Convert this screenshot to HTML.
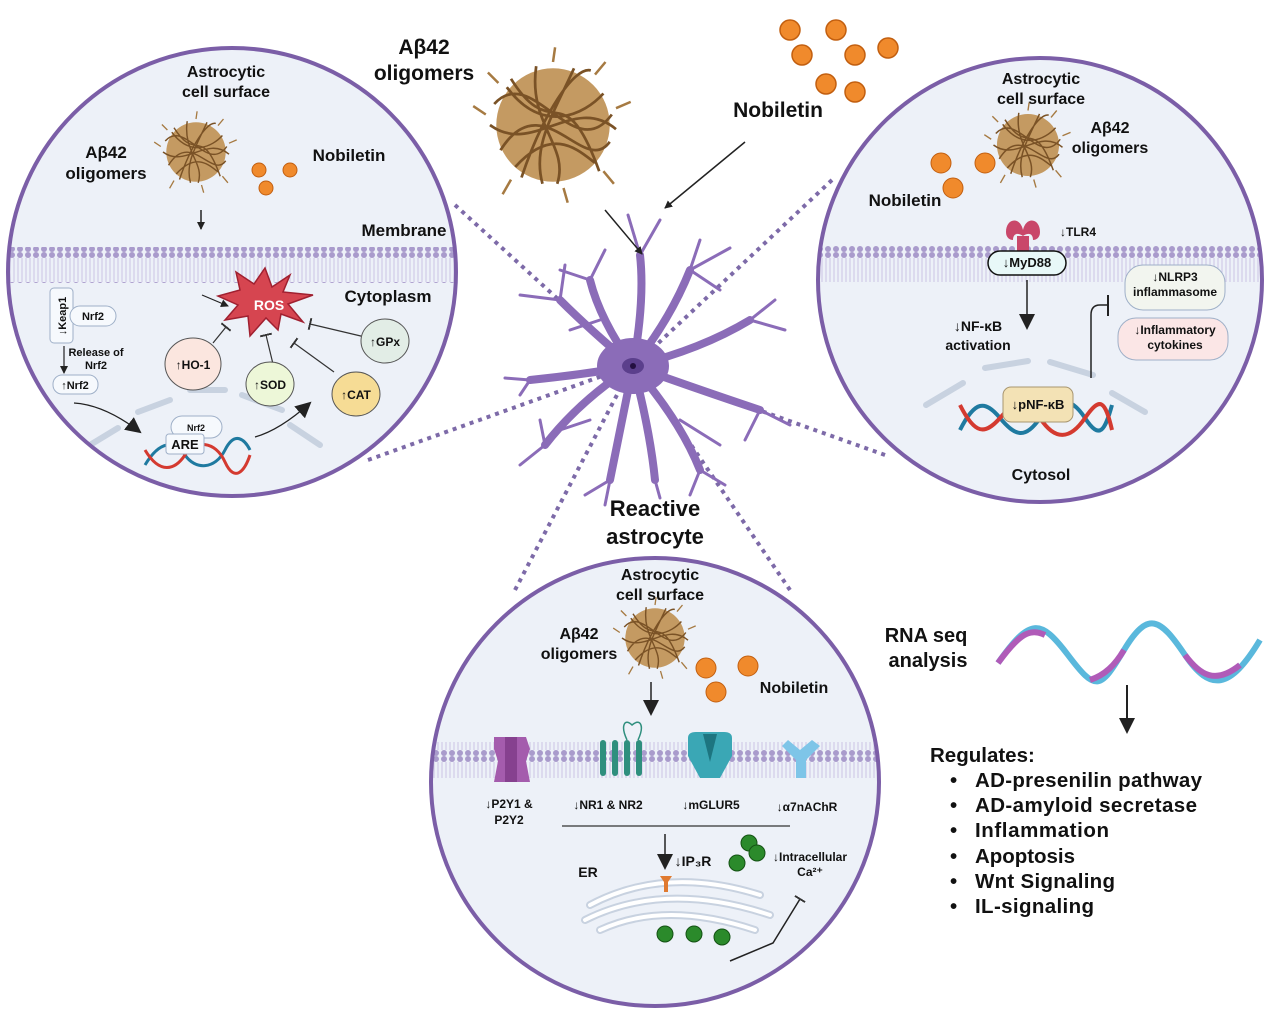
<!DOCTYPE html><html><head><style>body{margin:0;background:#fff}svg{display:block}text{font-family:"Liberation Sans",sans-serif;font-weight:bold;fill:#111}</style></head><body>
<svg width="1280" height="1019" viewBox="0 0 1280 1019" xmlns="http://www.w3.org/2000/svg">
<defs>
<marker id="a" markerWidth="8" markerHeight="8" refX="7" refY="4" orient="auto" markerUnits="userSpaceOnUse"><path d="M0,0L8,4L0,8z" fill="#222"/></marker>
<marker id="b" markerWidth="16" markerHeight="16" refX="14" refY="8" orient="auto" markerUnits="userSpaceOnUse"><path d="M0,0L16,8L0,16z" fill="#222"/></marker>
<marker id="t" markerWidth="2" markerHeight="12" refX="1" refY="6" orient="auto" markerUnits="userSpaceOnUse"><rect width="2" height="12" fill="#333"/></marker>
<pattern id="mem" width="8" height="36" patternUnits="userSpaceOnUse"><circle cx="4" cy="3" r="3" fill="#a99bcc"/><circle cx="4" cy="33" r="3" fill="#a99bcc"/><path d="M2,6v24M6,6v24" stroke="#c4b9df" stroke-width="0.8"/></pattern>
<clipPath id="c1"><circle cx="232" cy="272" r="224"/></clipPath>
<clipPath id="c2"><circle cx="1040" cy="280" r="222"/></clipPath>
<clipPath id="c3"><circle cx="655" cy="782" r="224"/></clipPath>
<g id="fib"><circle r="27" fill="#c49a62"/><g stroke="#7a5226" stroke-width="1.3" fill="none"><path d="M-28,-10C-10,-30 10,20 28,-5M-25,12C-5,-20 15,25 27,8M-20,-22C0,10 5,-25 22,22M-15,25C-5,-5 10,-28 18,-26M-30,0C-10,15 10,-15 30,2M-22,-18C-5,5 15,-5 24,-15M-18,20C0,0 12,12 20,18M-8,-28C-12,0 8,10 2,28M10,-27C0,-5 -10,10 -5,28"/></g><g stroke="#a67a42" stroke-width="1.2" fill="none"><path d="M-32,-5l-6,-4M30,-8l7,-3M-20,26l-4,7M24,22l5,6M0,-30l1,-7M-26,-20l-5,-5M20,-24l5,-6M5,30l2,7"/></g></g>
</defs>
<g stroke="#7d6aa8" stroke-width="4" stroke-dasharray="4 5">
<line x1="455" y1="205" x2="630" y2="365"/><line x1="368" y1="460" x2="630" y2="366"/>
<line x1="832" y1="180" x2="635" y2="365"/><line x1="885" y1="455" x2="635" y2="366"/>
<line x1="515" y1="590" x2="630" y2="370"/><line x1="790" y1="590" x2="640" y2="370"/>
</g>
<g stroke="#8b6cb8" fill="none" stroke-linecap="round">
<g stroke-width="8"><path d="M633,366Q645,300 640,255M633,366Q670,320 690,270M633,366Q700,350 750,320M633,366Q700,390 760,410M633,366Q680,420 700,470M633,366Q650,430 655,480M633,366Q620,430 610,480M633,366Q580,400 545,445M633,366Q580,375 530,380M633,366Q590,330 560,300M633,366Q600,320 590,280"/></g>
<g stroke-width="3"><path d="M640,255L628,215M640,255L660,220M690,270L730,248M690,270L700,240M750,320L775,300M750,320L785,330M760,410L790,425M760,410L745,440M700,470L725,485M700,470L690,495M655,480L660,498M610,480L605,505M610,480L585,495M545,445L520,465M545,445L540,420M530,380L505,378M530,380L520,395M560,300L520,295M560,300L565,265M590,280L560,270M590,280L605,250M690,270L720,290M600,320L570,330M680,420L720,445M590,420L560,430"/></g>
</g>
<ellipse cx="633" cy="366" rx="36" ry="28" fill="#8b6cb8"/><ellipse cx="633" cy="366" rx="11" ry="8" fill="#5b3f8c"/><circle cx="633" cy="366" r="3" fill="#231040"/>
<text x="655" y="516" font-size="22" text-anchor="middle">Reactive</text><text x="655" y="544" font-size="22" text-anchor="middle">astrocyte</text>
<text x="424" y="54" font-size="21" text-anchor="middle">Aβ42</text><text x="424" y="80" font-size="21" text-anchor="middle">oligomers</text>
<use href="#fib" transform="translate(553,125) scale(2.1)"/>
<g fill="#f08a2c" stroke="#c25f10" stroke-width="1.5"><circle cx="790" cy="30" r="10"/><circle cx="836" cy="30" r="10"/><circle cx="802" cy="55" r="10"/><circle cx="855" cy="55" r="10"/><circle cx="888" cy="48" r="10"/><circle cx="826" cy="84" r="10"/><circle cx="855" cy="92" r="10"/></g>
<text x="778" y="117" font-size="21" text-anchor="middle">Nobiletin</text>
<line x1="745" y1="142" x2="665" y2="208" stroke="#222" stroke-width="1.5" marker-end="url(#a)"/>
<line x1="605" y1="210" x2="642" y2="254" stroke="#222" stroke-width="1.5" marker-end="url(#a)"/>

<circle cx="232" cy="272" r="224" fill="#edf1f8"/>
<g clip-path="url(#c1)"><rect x="0" y="247" width="470" height="36" fill="url(#mem)"/>
<g stroke="#c8d2e0" stroke-width="6" fill="none" stroke-linecap="round"><path d="M90,445L118,428M138,412L170,400M190,390L225,390M242,395L282,410M290,425L320,445"/></g></g>
<circle cx="232" cy="272" r="224" fill="none" stroke="#7b5ea7" stroke-width="4"/>
<text x="226" y="77" font-size="16" text-anchor="middle">Astrocytic</text><text x="226" y="97" font-size="16" text-anchor="middle">cell surface</text>
<text x="106" y="158" font-size="17" text-anchor="middle">Aβ42</text><text x="106" y="179" font-size="17" text-anchor="middle">oligomers</text>
<use href="#fib" transform="translate(196,152) scale(1.1)"/>
<g fill="#f08a2c" stroke="#c25f10"><circle cx="259" cy="170" r="7"/><circle cx="290" cy="170" r="7"/><circle cx="266" cy="188" r="7"/></g>
<text x="349" y="161" font-size="17" text-anchor="middle">Nobiletin</text>
<line x1="201" y1="210" x2="201" y2="229" stroke="#222" stroke-width="1.5" marker-end="url(#a)"/>
<text x="404" y="236" font-size="17" text-anchor="middle">Membrane</text>
<text x="388" y="302" font-size="17" text-anchor="middle">Cytoplasm</text>
<polygon points="265,268 272,287 290,275 283,292 313,295 288,304 303,322 281,314 278,330 266,318 250,336 248,316 225,320 238,305 218,296 240,290 236,272 254,284" fill="#d64550" stroke="#a02030" stroke-width="1.5"/>
<text x="269" y="310" font-size="14" text-anchor="middle" style="fill:#fff">ROS</text>
<line x1="202" y1="295" x2="228" y2="306" stroke="#222" stroke-width="1.2" marker-end="url(#a)"/>
<g stroke="#333" stroke-width="1.2"><line x1="213" y1="343" x2="226" y2="327" marker-end="url(#t)"/><line x1="273" y1="364" x2="266" y2="335" marker-end="url(#t)"/><line x1="334" y1="372" x2="294" y2="343" marker-end="url(#t)"/><line x1="365" y1="337" x2="310" y2="324" marker-end="url(#t)"/></g>
<ellipse cx="193" cy="364" rx="28" ry="26" fill="#fbe6df" stroke="#555"/><text x="193" y="369" font-size="12" text-anchor="middle">↑HO-1</text>
<ellipse cx="270" cy="384" rx="24" ry="22" fill="#edf7d8" stroke="#555"/><text x="270" y="389" font-size="12" text-anchor="middle">↑SOD</text>
<ellipse cx="356" cy="394" rx="24" ry="22" fill="#f6dc95" stroke="#555"/><text x="356" y="399" font-size="12" text-anchor="middle">↑CAT</text>
<ellipse cx="385" cy="341" rx="24" ry="22" fill="#e2ede6" stroke="#555"/><text x="385" y="346" font-size="12" text-anchor="middle">↑GPx</text>
<rect x="50" y="288" width="23" height="55" rx="4" fill="#f6f9fd" stroke="#9fb0c8"/><text x="66" y="316" font-size="11" text-anchor="middle" transform="rotate(-90 66 316)">↓Keap1</text>
<rect x="70" y="306" width="46" height="20" rx="10" fill="#f6f9fd" stroke="#9fb0c8"/><text x="93" y="320" font-size="11" text-anchor="middle">Nrf2</text>
<line x1="64" y1="346" x2="64" y2="373" stroke="#222" stroke-width="1.2" marker-end="url(#a)"/>
<text x="96" y="356" font-size="11" text-anchor="middle">Release of</text><text x="96" y="369" font-size="11" text-anchor="middle">Nrf2</text>
<rect x="53" y="375" width="45" height="19" rx="9" fill="#f6f9fd" stroke="#9fb0c8"/><text x="75" y="389" font-size="11" text-anchor="middle">↑Nrf2</text>
<path d="M74,403Q105,405 140,432" stroke="#222" fill="none" stroke-width="1.2" marker-end="url(#b)"/>
<path d="M255,437Q280,430 310,403" stroke="#222" fill="none" stroke-width="1.2" marker-end="url(#b)"/>
<rect x="171" y="416" width="51" height="22" rx="11" fill="#f6f9fd" stroke="#9fb0c8"/><text x="196" y="431" font-size="9" text-anchor="middle">Nrf2</text>
<g fill="none" stroke-width="3"><path d="M145,465C160,440 175,440 185,455S215,470 225,450S245,440 250,450" stroke="#1f7aa0"/><path d="M145,450C160,475 175,470 185,455S215,440 225,462S245,470 250,455" stroke="#d43a30"/></g>
<rect x="166" y="434" width="38" height="20" rx="3" fill="#f6f9fd" stroke="#9fb0c8"/><text x="185" y="449" font-size="13" text-anchor="middle">ARE</text>

<circle cx="1040" cy="280" r="222" fill="#edf1f8"/>
<g clip-path="url(#c2)"><rect x="810" y="246" width="470" height="36" fill="url(#mem)"/>
<g stroke="#c8d2e0" stroke-width="6" fill="none" stroke-linecap="round"><path d="M926,405L963,383M985,368L1028,361M1050,362L1093,375M1112,393L1145,412"/></g></g>
<circle cx="1040" cy="280" r="222" fill="none" stroke="#7b5ea7" stroke-width="4"/>
<text x="1041" y="84" font-size="16" text-anchor="middle">Astrocytic</text><text x="1041" y="104" font-size="16" text-anchor="middle">cell surface</text>
<use href="#fib" transform="translate(1028,145) scale(1.15)"/>
<text x="1110" y="133" font-size="16" text-anchor="middle">Aβ42</text><text x="1110" y="153" font-size="16" text-anchor="middle">oligomers</text>
<g fill="#f08a2c" stroke="#c25f10"><circle cx="941" cy="163" r="10"/><circle cx="985" cy="163" r="10"/><circle cx="953" cy="188" r="10"/></g>
<text x="905" y="206" font-size="17" text-anchor="middle">Nobiletin</text>
<path d="M1006,232c0,-14 14,-16 17,-2c3,-14 17,-12 17,2c0,6 -4,8 -7,8c0,-6 -4,-8 -10,-4c-6,-4 -10,-2 -10,4c-3,0 -7,-2 -7,-8z" fill="#c9476a"/><rect x="1017" y="236" width="12" height="16" fill="#c9476a"/>
<text x="1078" y="236" font-size="12" text-anchor="middle">↓TLR4</text>
<rect x="988" y="251" width="78" height="24" rx="12" fill="#e8f8f8" stroke="#111" stroke-width="1.5"/><text x="1027" y="267" font-size="13" text-anchor="middle">↓MyD88</text>
<line x1="1027" y1="280" x2="1027" y2="328" stroke="#222" stroke-width="1.5" marker-end="url(#b)"/>
<text x="978" y="331" font-size="14" text-anchor="middle">↓NF-κB</text><text x="978" y="350" font-size="14" text-anchor="middle">activation</text>
<path d="M1091,378V315Q1091,305 1100,305H1108" stroke="#222" fill="none" stroke-width="1.5"/><line x1="1108" y1="295" x2="1108" y2="316" stroke="#222" stroke-width="2"/>
<rect x="1125" y="265" width="100" height="45" rx="18" fill="#f2f5ef" stroke="#9fb0c8"/><text x="1175" y="281" font-size="12" text-anchor="middle">↓NLRP3</text><text x="1175" y="296" font-size="12" text-anchor="middle">inflammasome</text>
<rect x="1118" y="318" width="110" height="42" rx="18" fill="#fbe6e6" stroke="#9fb0c8"/><text x="1175" y="334" font-size="12" text-anchor="middle">↓Inflammatory</text><text x="1175" y="349" font-size="12" text-anchor="middle">cytokines</text>
<g fill="none" stroke-width="4"><path d="M960,430C975,400 985,400 1000,418S1025,440 1040,418S1070,395 1085,418S1105,430 1112,405" stroke="#1f7aa0"/><path d="M960,405C975,435 985,435 1000,418S1025,395 1040,418S1070,440 1085,418S1105,400 1112,430" stroke="#d43a30"/></g>
<rect x="1003" y="387" width="70" height="35" rx="8" fill="#f3e2b5" stroke="#a89670"/><text x="1038" y="409" font-size="13" text-anchor="middle">↓pNF-κB</text>
<text x="1041" y="480" font-size="16" text-anchor="middle">Cytosol</text>

<circle cx="655" cy="782" r="224" fill="#edf1f8"/>
<g clip-path="url(#c3)"><rect x="420" y="742" width="470" height="36" fill="url(#mem)"/></g>
<circle cx="655" cy="782" r="224" fill="none" stroke="#7b5ea7" stroke-width="4"/>
<text x="660" y="580" font-size="16" text-anchor="middle">Astrocytic</text><text x="660" y="600" font-size="16" text-anchor="middle">cell surface</text>
<use href="#fib" transform="translate(655,638) scale(1.1)"/>
<text x="579" y="639" font-size="16" text-anchor="middle">Aβ42</text><text x="579" y="659" font-size="16" text-anchor="middle">oligomers</text>
<g fill="#f08a2c" stroke="#c25f10"><circle cx="706" cy="668" r="10"/><circle cx="748" cy="666" r="10"/><circle cx="716" cy="692" r="10"/></g>
<text x="794" y="693" font-size="16" text-anchor="middle">Nobiletin</text>
<line x1="651" y1="682" x2="651" y2="714" stroke="#222" stroke-width="1.5" marker-end="url(#b)"/>
<path d="M494,737h32l4,12l-4,12l4,21h-36l4,-21l-4,-12z" fill="#a45cad"/><rect x="505" y="737" width="12" height="45" fill="#86418f"/>
<rect x="600" y="740" width="6" height="36" rx="3" fill="#2f8f7e"/><rect x="612" y="740" width="6" height="36" rx="3" fill="#2f8f7e"/><rect x="624" y="740" width="6" height="36" rx="3" fill="#2f8f7e"/><rect x="636" y="740" width="6" height="36" rx="3" fill="#2f8f7e"/><path d="M627,740C620,725 625,718 632,725C640,718 645,725 638,740" stroke="#2f8f7e" fill="none" stroke-width="1.5"/>
<path d="M688,738Q688,732 696,732h28q8,0 8,6v18l-12,22h-20l-12,-22z" fill="#3aa7b5"/><path d="M703,734h14l-7,28z" fill="#1d7580"/>
<path d="M788,740l12,10l12,-10l8,6l-14,14v18h-10v-18l-14,-14z" fill="#7ec5e8"/>
<g font-size="12"><text x="509" y="808" text-anchor="middle">↓P2Y1 &amp;</text><text x="509" y="824" text-anchor="middle">P2Y2</text><text x="608" y="809" text-anchor="middle">↓NR1 &amp; NR2</text><text x="711" y="809" text-anchor="middle">↓mGLUR5</text><text x="807" y="811" text-anchor="middle">↓α7nAChR</text></g>
<line x1="562" y1="826" x2="790" y2="826" stroke="#333" stroke-width="1.2"/>
<line x1="665" y1="834" x2="665" y2="868" stroke="#222" stroke-width="1.5" marker-end="url(#b)"/>
<text x="693" y="866" font-size="14" text-anchor="middle">↓IP₃R</text>
<text x="588" y="877" font-size="14" text-anchor="middle">ER</text>
<g fill="none" stroke="#c8d2e0" stroke-width="8" stroke-linecap="round"><path d="M590,905Q665,865 760,895"/><path d="M585,920Q665,880 770,915"/><path d="M600,930Q665,900 755,930"/></g>
<g fill="none" stroke="#fff" stroke-width="4" stroke-linecap="round"><path d="M590,905Q665,865 760,895"/><path d="M585,920Q665,880 770,915"/><path d="M600,930Q665,900 755,930"/></g>
<path d="M660,876h12l-4,6v10h-4v-10z" fill="#e07a30"/>
<text x="810" y="861" font-size="12" text-anchor="middle">↓Intracellular</text><text x="810" y="876" font-size="12" text-anchor="middle">Ca²⁺</text>
<g fill="#2b8a2b" stroke="#145214"><circle cx="749" cy="843" r="8"/><circle cx="757" cy="853" r="8"/><circle cx="737" cy="863" r="8"/><circle cx="665" cy="934" r="8"/><circle cx="694" cy="934" r="8"/><circle cx="722" cy="937" r="8"/></g>
<polyline points="730,961 773,943 800,899" fill="none" stroke="#222" stroke-width="1.5" marker-end="url(#t)"/>

<text x="926" y="642" font-size="20" text-anchor="middle">RNA seq</text><text x="928" y="667" font-size="20" text-anchor="middle">analysis</text>
<path d="M998,663C1030,618 1040,618 1068,655S1100,690 1124,650S1160,618 1185,655S1230,690 1260,640" fill="none" stroke="#5ab8dc" stroke-width="6"/>
<path d="M998,663C1020,633 1030,628 1045,635M1090,680C1105,675 1115,665 1124,650M1185,655C1200,675 1215,685 1240,665" fill="none" stroke="#b05bb8" stroke-width="6"/>
<line x1="1127" y1="685" x2="1127" y2="732" stroke="#222" stroke-width="2" marker-end="url(#b)"/>
<g font-size="20.5"><text x="930" y="762">Regulates:</text>
<text x="950" y="787">•</text><text x="975" y="787" textLength="227">AD-presenilin pathway</text>
<text x="950" y="812">•</text><text x="975" y="812" textLength="222">AD-amyloid secretase</text>
<text x="950" y="837">•</text><text x="975" y="837" textLength="134">Inflammation</text>
<text x="950" y="863">•</text><text x="975" y="863" textLength="100">Apoptosis</text>
<text x="950" y="888">•</text><text x="975" y="888" textLength="140">Wnt Signaling</text>
<text x="950" y="913">•</text><text x="975" y="913" textLength="119">IL-signaling</text></g>
</svg></body></html>
